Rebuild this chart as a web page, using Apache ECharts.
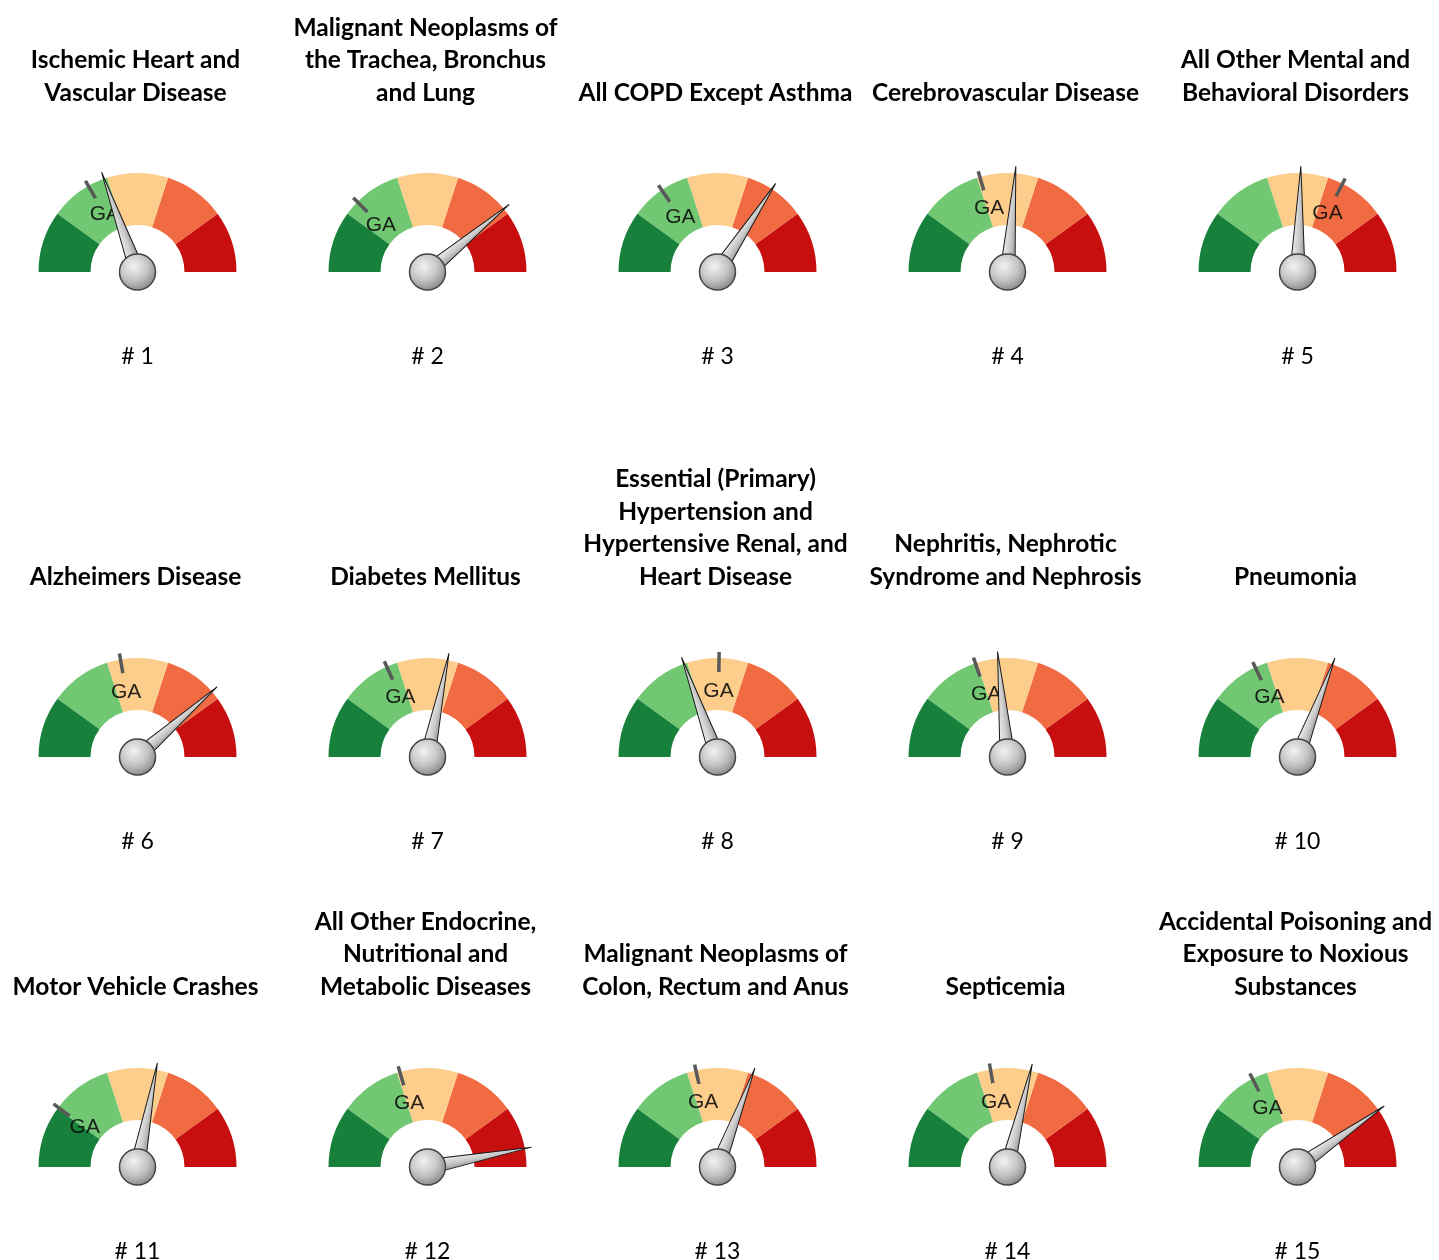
<!DOCTYPE html>
<html>
<head>
<meta charset="utf-8">
<title>Leading Causes of Death</title>
<script src="https://cdn.jsdelivr.net/npm/echarts@6/dist/echarts.min.js"></script>
<style>
  html, body { margin: 0; padding: 0; background: #ffffff; }
  #chart { width: 1439px; height: 1260px; }
</style>
</head>
<body>
<div id="chart"></div>
<script>
// Cause-of-death names, one per gauge (rank order)
const causes = [
  'Ischemic Heart and\nVascular Disease',
  'Malignant Neoplasms of\nthe Trachea, Bronchus\nand Lung',
  'All COPD Except Asthma',
  'Cerebrovascular Disease',
  'All Other Mental and\nBehavioral Disorders',
  'Alzheimers Disease',
  'Diabetes Mellitus',
  'Essential (Primary)\nHypertension and\nHypertensive Renal, and\nHeart Disease',
  'Nephritis, Nephrotic\nSyndrome and Nephrosis',
  'Pneumonia',
  'Motor Vehicle Crashes',
  'All Other Endocrine,\nNutritional and\nMetabolic Diseases',
  'Malignant Neoplasms of\nColon, Rectum and Anus',
  'Septicemia',
  'Accidental Poisoning and\nExposure to Noxious\nSubstances'
];

// Rank labels under each gauge
const ranks = ['# 1', '# 2', '# 3', '# 4', '# 5', '# 6', '# 7', '# 8',
               '# 9', '# 10', '# 11', '# 12', '# 13', '# 14', '# 15'];

// Needle reading for each cause (0-100 scale)
const needleValues = [39, 78, 68.5, 52.5, 51, 77, 56.5, 39, 47, 61.5, 56, 94, 61.5, 57.5, 80.5];

// Georgia (GA) reference reading for each cause (0-100 scale)
const gaValues = [33.5, 25, 31, 41, 65, 44.5, 36.5, 50.5, 39.5, 36, 20.5, 41, 43, 44.5, 35];

// Five equal colour bands, best to worst
const bandColors = ['#17803b', '#72c773', '#fdcd8c', '#f06a42', '#c80f10'];

// Layout
const COLS = 5;
const colCenters = [137.5, 427.5, 717.5, 1007.5, 1297.5];
const rowCenters = [272, 757, 1167];
const titleLastLine = [93, 577, 987];
const R = 99, BAND = 52, LINE = 32.5;
const FONT = 'Lato, "Open Sans", sans-serif';

const bands = bandColors.map((c, i) => [(i + 1) / bandColors.length, c]);

const needleFill = {
  type: 'linear', x: 0, y: 0, x2: 1, y2: 0,
  colorStops: [
    { offset: 0, color: '#f4f4f4' },
    { offset: 0.55, color: '#c9c9c9' },
    { offset: 1, color: '#8c8c8c' }
  ]
};
const knobFill = {
  type: 'radial', x: 0.4, y: 0.35, r: 0.75,
  colorStops: [
    { offset: 0, color: '#f2f2f2' },
    { offset: 0.5, color: '#c4c4c4' },
    { offset: 1, color: '#777777' }
  ]
};
// GA marker: only the outer part of the pointer is visible
const gaFill = {
  type: 'linear', x: 0, y: 0, x2: 0, y2: 1,
  colorStops: [
    { offset: 0, color: '#585858' },
    { offset: 0.19, color: '#585858' },
    { offset: 0.191, color: 'rgba(0,0,0,0)' },
    { offset: 1, color: 'rgba(0,0,0,0)' }
  ]
};

function gaLabelOffset(v) {
  const a = (180 - v * 1.8) * Math.PI / 180;
  const r = 66;
  return [r * Math.cos(a), -r * Math.sin(a)];
}

const common = {
  type: 'gauge',
  radius: R,
  startAngle: 180,
  endAngle: 0,
  min: 0,
  max: 100,
  splitNumber: 5,
  axisTick: { show: false },
  splitLine: { show: false },
  axisLabel: { show: false },
  animation: false,
  silent: true
};

const series = [];
const titles = [];

causes.forEach((name, i) => {
  const col = i % COLS, row = Math.floor(i / COLS);
  const center = [colCenters[col], rowCenters[row]];

  // colour bands
  series.push(Object.assign({}, common, {
    center, z: 1,
    axisLine: { lineStyle: { width: BAND, color: bands } },
    pointer: { show: false },
    anchor: { show: false },
    title: { show: false },
    detail: { show: false },
    data: [{ value: 0 }]
  }));

  // GA reference tick and label
  series.push(Object.assign({}, common, {
    center, z: 2,
    axisLine: { show: false },
    pointer: { show: true, icon: 'rect', length: 105, width: 3.5, itemStyle: { color: gaFill } },
    anchor: { show: false },
    title: {
      show: true,
      offsetCenter: gaLabelOffset(gaValues[i]),
      fontSize: 21,
      fontFamily: '"Liberation Sans", Arial, sans-serif',
      color: 'rgba(10,10,10,0.88)'
    },
    detail: { show: false },
    data: [{ value: gaValues[i], name: 'GA' }]
  }));

  // needle, knob and rank label
  series.push(Object.assign({}, common, {
    center, z: 3,
    axisLine: { show: false },
    pointer: {
      show: true, icon: 'triangle', length: 106, width: 15,
      itemStyle: { color: needleFill, borderColor: '#1a1a1a', borderWidth: 1 }
    },
    anchor: {
      show: true, showAbove: true, size: 36,
      itemStyle: { color: knobFill, borderColor: '#444444', borderWidth: 1.5 }
    },
    title: {
      show: true,
      offsetCenter: [0, 85],
      fontSize: 23,
      fontFamily: FONT,
      color: '#000'
    },
    detail: { show: false },
    data: [{ value: needleValues[i], name: ranks[i] }]
  }));

  // cause name above the gauge, bottom-aligned per row
  const nLines = name.split('\n').length;
  titles.push({
    text: name,
    left: colCenters[col] - 2,
    textAlign: 'center',
    top: titleLastLine[row] - (nLines - 0.5) * LINE,
    padding: 0,
    textStyle: {
      fontFamily: FONT,
      fontWeight: 'bold',
      fontSize: 24.5,
      lineHeight: LINE,
      color: '#000'
    }
  });
});

const chart = echarts.init(document.getElementById('chart'), null, { renderer: 'canvas' });
chart.setOption({
  backgroundColor: '#ffffff',
  title: titles,
  series
});
</script>
</body>
</html>
